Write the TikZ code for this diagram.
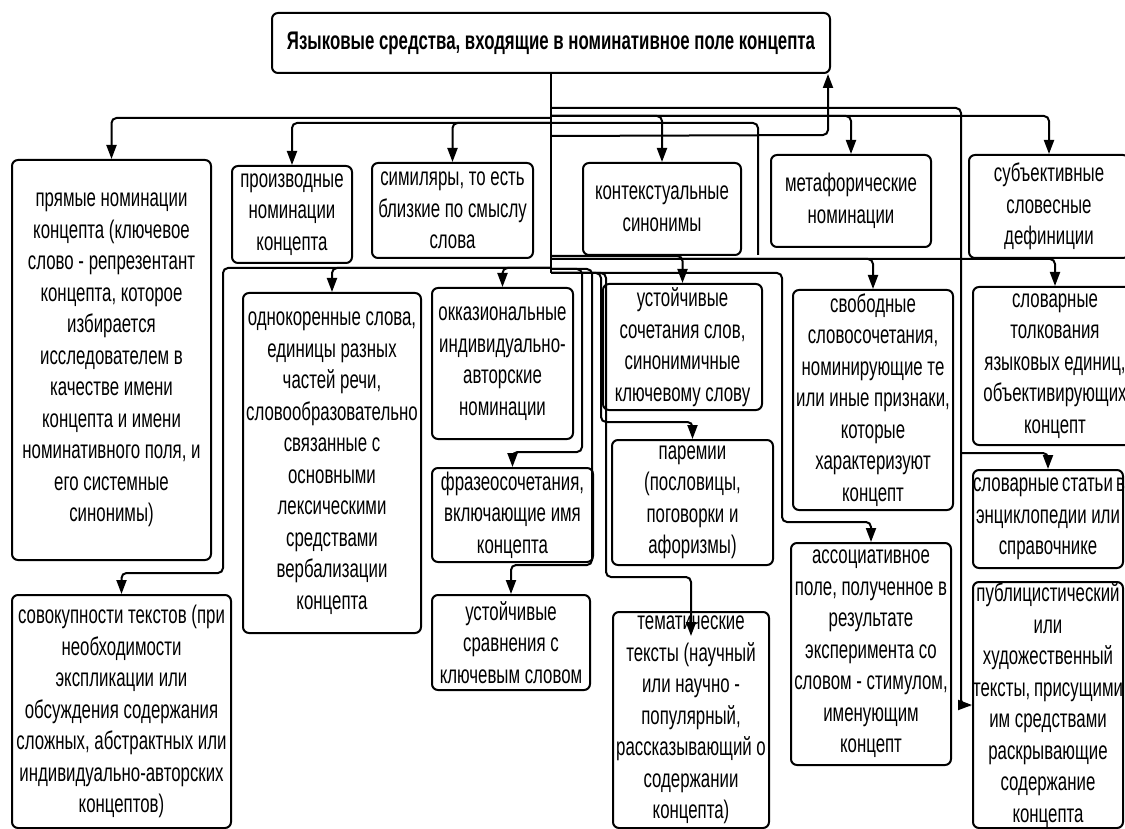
\documentclass[tikz,border=0pt]{standalone}
\usepackage{fontspec}
\setmainfont[FakeStretch=0.66]{Liberation Sans}
\usetikzlibrary{arrows.meta}
\tikzset{box/.style 2 args={draw, line width=2pt, rounded corners=6pt,
  align=flush center, inner xsep=0pt, inner ysep=0pt,
  text width=#1pt, minimum width=#1pt, minimum height=#2pt,
  font=\fontsize{25.5}{31.5}\selectfont}}
\tikzset{ln/.style={line width=2pt, rounded corners=5pt}}
\tikzset{arr/.style={ln, -{Triangle[length=14pt,width=10pt]}}}

\begin{document}
\begin{tikzpicture}[x=1pt,y=-1pt]
  \useasboundingbox (0,0) rectangle (1125,829);
  % top
  \node [box={558}{60}, font=\fontsize{25.5}{28}\selectfont\bfseries] (T) at (551,43)
    {Языковые средства, входящие в номинативное поле концепта};
  % first row
  \node [box={199}{400}] (A) at (111.5,360) {прямые номинации\\концепта (ключевое\\слово - репрезентант\\концепта, которое\\избирается\\исследователем в\\качестве имени\\концепта и имени\\номинативного~поля,~и\\его системные\\синонимы)};
  \node [box={120}{97}] (B) at (292,214.5) {производные\\номинации\\концепта};
  \node [box={161}{95}] (C) at (452.5,210.5) {симиляры,~то~есть\\близкие~по~смыслу\\слова};
  \node [box={158}{92}] (D) at (662,209) {контекстуальные\\синонимы};
  \node [box={160}{92}] (E) at (851,201) {метафорические\\номинации};
  \node [box={160}{103}] (F) at (1049,206.5) {субъективные\\словесные\\дефиниции};
  % second row
  \node [box={178}{340}] (G) at (332,463) {однокоренные~слова,\\единицы разных\\частей речи,\\словообразовательно\\связанные с\\основными\\лексическими\\средствами\\вербализации\\концепта};
  \node [box={141}{151}] (H) at (502.5,363.5) {окказиональные\\индивидуально-\\авторские\\номинации};
  \node [box={161}{94}] (I) at (512.5,515) {фразеосочетания,\\включающие~имя\\концепта};
  \node [box={158}{95}] (J) at (511,642.5) {устойчивые\\сравнения с\\ключевым~словом};
  \node [box={159}{126}] (K) at (682.5,347) {устойчивые\\сочетания~слов,\\синонимичные\\ключевому~слову};
  \node [box={161}{125}] (L) at (692.5,502.5) {паремии\\(пословицы,\\поговорки и\\афоризмы)};
  \node [box={156}{216}] (M) at (691,720) {тематические\\тексты~(научный\\или научно -\\популярный,\\рассказывающий~о\\содержании\\концепта)};
  \node [box={160}{220}] (N) at (873,400) {свободные\\словосочетания,\\номинирующие~те\\или~иные~признаки,\\которые\\характеризуют\\концепт};
  \node [box={160}{222}] (O) at (871,654) {ассоциативное\\поле,~полученное~в\\результате\\эксперимента~со\\\mbox{словом - стимулом,}\\именующим\\концепт};
  \node [box={164}{158}] (P) at (1055,366) {словарные\\толкования\\языковых~единиц,\\объективирующих\\концепт};
  \node [box={150}{98}] (Q) at (1048,519) {словарные~статьи~в\\энциклопедии~или\\справочнике};
  \node [box={150}{246}] (R) at (1048,705) {публицистический\\или\\художественный\\тексты,~присущими\\им средствами\\раскрывающие\\содержание\\концепта};
  \node [box={219}{233}] (S) at (121.5,711.5) {совокупности~текстов~(при\\необходимости\\экспликации или\\обсуждения~содержания\\сложных,~абстрактных~или\\индивидуально-авторских\\концептов)};

  \coordinate (rv) at (961,300);
  \coordinate (qv) at (961,453);
  \coordinate (up) at (828,135);

  % trunk and first level
  \draw [ln] (T.south) -- ++(0,199);
  \draw [arr] (T.south) ++(0,44) -| (A.north);
  \draw [arr] (T.south) ++(0,49) -| (B.north);
  \draw [arr] (T.south) ++(0,49) -| (C.north);
  \draw [arr] (T.south) ++(0,42) -| (D.north);
  \draw [arr] (T.south) ++(0,42) -| (E.north);
  \draw [arr] (T.south) ++(0,42) -| (F.north);
  \draw [arr] (T.south) ++(0,34) -| (rv) |- (R.west);
  \draw [ln] (T.south) ++(0,49) -| (758,255);
  \draw [arr] (T.south) ++(0,62) -- (up) -- (up |- T.south);

  % second level
  \draw [arr] (T.south) ++(0,194) -| (223,573) -| (S.north);
  \draw [arr] (T.south) ++(0,194) -| (G.north);
  \draw [arr] (T.south) ++(0,194) -| (H.north);
  \draw [arr] (T.south) ++(0,195) -| (582,452) -| (I.north);
  \draw [arr] (T.south) ++(0,195) -| (592,565) -| (J.north);
  \draw [arr] (T.south) ++(0,199) -| (601,422) -| (L.north);
  \draw [arr] (T.south) ++(0,199) -| (606,577) -| ([yshift=-25pt]M.north);
  \draw [arr] (T.south) ++(0,182) -| (K.north);
  \draw [arr] (T.south) ++(0,185) -| (N.north);
  \draw [arr] (T.south) ++(0,199) -| (782,522) -| (O.north);
  \draw [arr] (T.south) ++(0,185) -| (P.north);
  \draw [arr] (qv) -| (Q.north);
\end{tikzpicture}
\end{document}
